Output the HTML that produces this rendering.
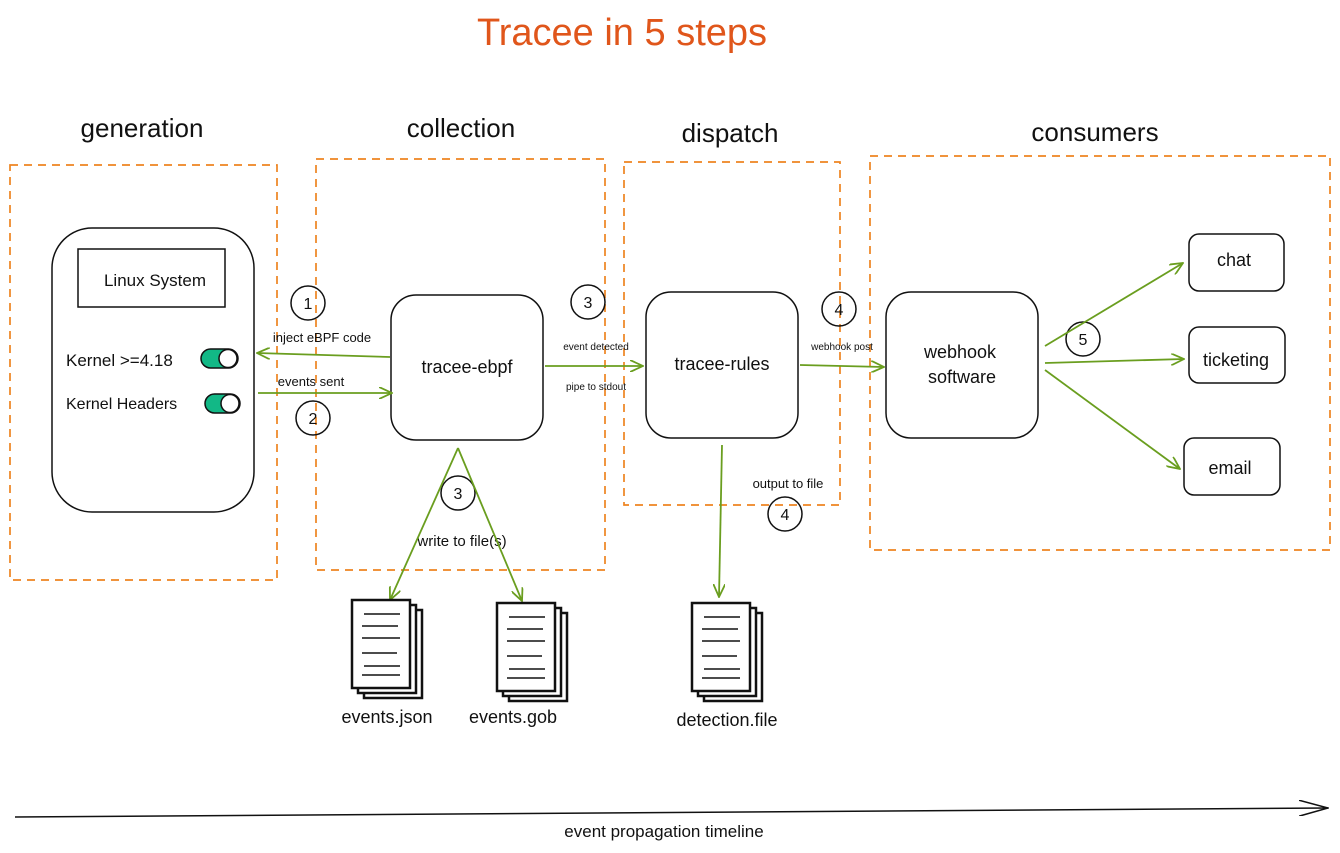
<!DOCTYPE html>
<html><head><meta charset="utf-8"><style>
html,body{margin:0;padding:0;background:#fff}
svg{display:block}
text{font-family:"Liberation Sans",sans-serif;fill:#111}
</style></head><body>
<svg width="1340" height="853" viewBox="0 0 1340 853" xmlns="http://www.w3.org/2000/svg">
<defs>
<marker id="a" markerWidth="14" markerHeight="12" refX="13" refY="6" orient="auto" markerUnits="userSpaceOnUse"><path d="M0,0 L13,6 L0,12" fill="none" stroke="#6a9e1f" stroke-width="1.8"/></marker>
<marker id="b" markerWidth="30" markerHeight="16" refX="29" refY="8" orient="auto" markerUnits="userSpaceOnUse"><path d="M0,0 L29,8 L0,16" fill="none" stroke="#111" stroke-width="1.5"/></marker>
</defs>
<text x="622" y="45" text-anchor="middle" font-size="38" style="fill:#e0561b">Tracee in 5 steps</text>
<g font-size="26" text-anchor="middle">
<text x="142" y="137">generation</text><text x="461" y="137">collection</text>
<text x="730" y="142">dispatch</text><text x="1095" y="141">consumers</text></g>
<g fill="none" stroke="#ee8420" stroke-width="1.7" stroke-dasharray="8 6">
<rect x="10" y="165" width="267" height="415"/><rect x="316" y="159" width="289" height="411"/>
<rect x="624" y="162" width="216" height="343"/><rect x="870" y="156" width="460" height="394"/></g>
<g fill="none" stroke="#111" stroke-width="1.5">
<rect x="52" y="228" width="202" height="284" rx="40"/>
<rect x="78" y="249" width="147" height="58"/>
<rect x="391" y="295" width="152" height="145" rx="25"/>
<rect x="646" y="292" width="152" height="146" rx="25"/>
<rect x="886" y="292" width="152" height="146" rx="25"/>
<rect x="1189" y="234" width="95" height="57" rx="10"/>
<rect x="1189" y="327" width="96" height="56" rx="10"/>
<rect x="1184" y="438" width="96" height="57" rx="10"/>
<circle cx="308" cy="303" r="17"/><circle cx="313" cy="418" r="17"/>
<circle cx="588" cy="302" r="17"/><circle cx="458" cy="493" r="17"/>
<circle cx="839" cy="309" r="17"/><circle cx="785" cy="514" r="17"/>
<circle cx="1083" cy="339" r="17"/></g>
<g font-size="16" text-anchor="middle">
<text x="308" y="309">1</text><text x="313" y="424">2</text><text x="588" y="308">3</text>
<text x="458" y="499">3</text><text x="839" y="315">4</text><text x="785" y="520">4</text><text x="1083" y="345">5</text></g>
<text x="155" y="286" font-size="17" text-anchor="middle">Linux System</text>
<text x="66" y="366" font-size="17">Kernel &gt;=4.18</text>
<text x="66" y="409" font-size="16">Kernel Headers</text>
<rect x="201" y="349" width="37" height="19" rx="9.5" fill="#12b886" stroke="#111" stroke-width="1.5"/>
<circle cx="228" cy="358.5" r="9" fill="#fff" stroke="#111" stroke-width="1.5"/>
<rect x="205" y="394" width="35" height="19" rx="9.5" fill="#12b886" stroke="#111" stroke-width="1.5"/>
<circle cx="230" cy="403.5" r="9" fill="#fff" stroke="#111" stroke-width="1.5"/>
<g font-size="18" text-anchor="middle">
<text x="467" y="373">tracee-ebpf</text><text x="722" y="370">tracee-rules</text>
<text x="960" y="358">webhook</text><text x="962" y="383">software</text>
<text x="1234" y="266">chat</text><text x="1236" y="366">ticketing</text><text x="1230" y="474">email</text>
<text x="387" y="723">events.json</text><text x="513" y="723">events.gob</text><text x="727" y="726">detection.file</text></g>
<g font-size="13" text-anchor="middle">
<text x="322" y="342">inject eBPF code</text><text x="311" y="386">events sent</text>
<text x="596" y="350" font-size="10">event detected</text><text x="596" y="390" font-size="10">pipe to stdout</text>
<text x="842" y="350" font-size="10">webhook post</text>
<text x="788" y="488">output to file</text><text x="462" y="546" font-size="15">write to file(s)</text>
<text x="664" y="837" font-size="17">event propagation timeline</text></g>
<g stroke="#6a9e1f" stroke-width="1.8" fill="none" marker-end="url(#a)">
<line x1="390" y1="357" x2="257" y2="353"/>
<line x1="258" y1="393" x2="392" y2="393"/>
<line x1="545" y1="366" x2="643" y2="366"/>
<line x1="800" y1="365" x2="884" y2="367"/>
<line x1="722" y1="445" x2="719" y2="597"/>
<line x1="458" y1="448" x2="390" y2="600"/>
<line x1="458" y1="448" x2="522" y2="601"/>
<line x1="1045" y1="346" x2="1183" y2="263"/>
<line x1="1045" y1="363" x2="1184" y2="359"/>
<line x1="1045" y1="370" x2="1180" y2="469"/></g>
<line x1="15" y1="817" x2="1328" y2="808" stroke="#111" stroke-width="1.5" marker-end="url(#b)"/>
<g fill="#fff" stroke="#111" stroke-width="2.5">
<g transform="translate(352,600)"><rect x="12" y="10" width="58" height="88"/><rect x="6" y="5" width="58" height="88"/><rect x="0" y="0" width="58" height="88"/>
<path d="M12,14h36M10,26h36M10,38h38M10,53h35M12,66h36M10,75h38" stroke-width="1.5"/></g>
<g transform="translate(497,603)"><rect x="12" y="10" width="58" height="88"/><rect x="6" y="5" width="58" height="88"/><rect x="0" y="0" width="58" height="88"/>
<path d="M12,14h36M10,26h36M10,38h38M10,53h35M12,66h36M10,75h38" stroke-width="1.5"/></g>
<g transform="translate(692,603)"><rect x="12" y="10" width="58" height="88"/><rect x="6" y="5" width="58" height="88"/><rect x="0" y="0" width="58" height="88"/>
<path d="M12,14h36M10,26h36M10,38h38M10,53h35M12,66h36M10,75h38" stroke-width="1.5"/></g></g>
</svg>
</body></html>
